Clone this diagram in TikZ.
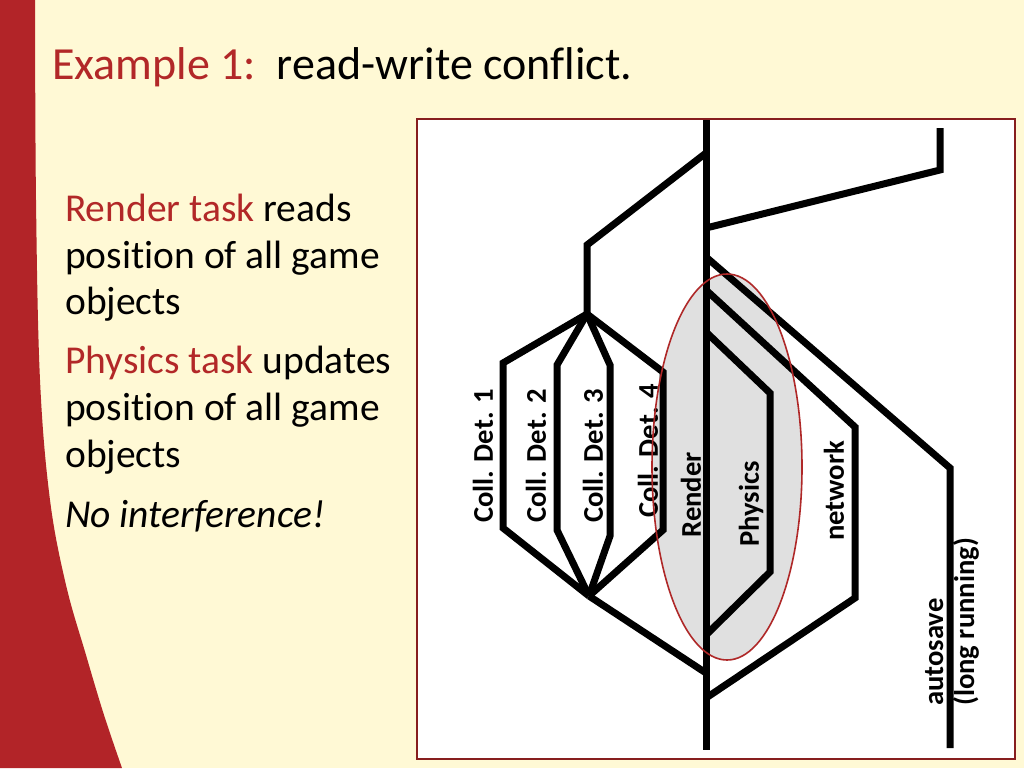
\documentclass[tikz,border=0pt]{standalone}
\usepackage{fontspec}
\setmainfont{Carlito}[Ligatures=NoCommon]
\definecolor{bgcream}{RGB}{255,249,213}
\definecolor{bandred}{RGB}{178,36,40}
\definecolor{txtred}{RGB}{178,40,40}
\definecolor{framered}{RGB}{135,30,30}
\definecolor{ellred}{RGB}{175,40,40}
\definecolor{ellfill}{RGB}{224,224,224}
\tikzset{
  thread/.style={line width=7pt, black, line join=miter, line cap=butt},
  bodytext/.style={anchor=base west, inner sep=0pt, font=\fontsize{39.5}{47}\selectfont},
  lbl/.style={rotate=90, inner sep=0pt, font=\fontsize{28.6}{31}\selectfont\bfseries},
}
\begin{document}
\begin{tikzpicture}[x=1pt, y=-1pt]
\useasboundingbox (0,0) rectangle (1024,768);
% background
\fill[bgcream] (0,0) rectangle (1024,768);
\fill[bandred] (0,0) -- plot[smooth, tension=0.6] coordinates {(35,0) (36,200) (40,380) (50,500) (66,585) (86,655) (104,715) (122,768)} -- (0,768) -- cycle;
% title
\node[anchor=base west, inner sep=0pt, font=\fontsize{46}{55}\selectfont] (title) at (52,79)
  {{\color{txtred}Example 1:}\ \ read-write conflict.};
% body text
\node[bodytext] (l1) at (65,221) {{\color{txtred}Render task} reads};
\node[bodytext] (l2) at (65,268) {position of all game};
\node[bodytext] (l3) at (65,314) {objects};
\node[bodytext] (l4) at (65,373) {{\color{txtred}Physics task} updates};
\node[bodytext] (l5) at (65,420) {position of all game};
\node[bodytext] (l6) at (65,467) {objects};
\node[bodytext] (l7) at (65,527) {\itshape No interference!};
% frame
\draw[framered, fill=white, line width=2.6pt] (417,119) rectangle (1015,759);
% ellipse fill
\coordinate (ec) at (727,467);
\fill[ellfill] (ec) ellipse [x radius=75, y radius=193];
% coordinates
\coordinate (r0) at (706,120);
\coordinate (r1) at (706,153);
\coordinate (r2) at (706,228);
\coordinate (r3) at (706,257);
\coordinate (r4) at (706,290);
\coordinate (r5) at (706,332);
\coordinate (r6) at (706,635);
\coordinate (r7) at (706,673);
\coordinate (r8) at (706,698);
\coordinate (r9) at (706,750);
\coordinate (a1) at (587,245);
\coordinate (f) at (587,314);
\coordinate (c1t) at (503,363);
\coordinate (c1b) at (503,528);
\coordinate (c2t) at (557,365);
\coordinate (c2b) at (557,530);
\coordinate (c3t) at (610,365);
\coordinate (c3b) at (610,536);
\coordinate (c4t) at (663,372);
\coordinate (c4b) at (663,530);
\coordinate (j) at (589,596);
\coordinate (tr1) at (940,170);
\coordinate (tr2) at (940,128);
\coordinate (as1) at (950,468);
\coordinate (as2) at (950,748);
\coordinate (nw1) at (855,427);
\coordinate (nw2) at (855,598);
\coordinate (ph1) at (770,393);
\coordinate (ph2) at (770,572);
% threads
\draw[thread] (r0) -- (r9);
\draw[thread] (r1) -- (a1) -- (f);
\draw[thread] (f) -- (c1t) -- (c1b) -- (j);
\draw[thread] (f) -- (c2t) -- (c2b) -- (j);
\draw[thread] (f) -- (c3t) -- (c3b) -- (j);
\draw[thread] (f) -- (c4t) -- (c4b) -- (j);
\draw[thread] (j) -- (r7);
\draw[thread] (r2) -- (tr1) -- (tr2);
\draw[thread] (r3) -- (as1) -- (as2);
\draw[thread] (r4) -- (nw1) -- (nw2) -- (r8);
\draw[thread] (r5) -- (ph1) -- (ph2) -- (r6);
% labels
\node[lbl] (cd1) at (483,456) {Coll. Det. 1};
\node[lbl] (cd2) at (536,456) {Coll. Det. 2};
\node[lbl] (cd3) at (593,456) {Coll. Det. 3};
\node[lbl] (cd4) at (648,451) {Coll. Det. 4};
\node[lbl] (render) at (691,495) {Render};
\node[lbl] (physics) at (751,504) {Physics};
\node[lbl] (network) at (834,491) {network};
\node[lbl, anchor=west, align=left] (autosave) at (952,706) {autosave\\(long running)};
% ellipse outline
\draw[ellred, line width=1.6pt] (ec) ellipse [x radius=75, y radius=193];
\end{tikzpicture}
\end{document}
